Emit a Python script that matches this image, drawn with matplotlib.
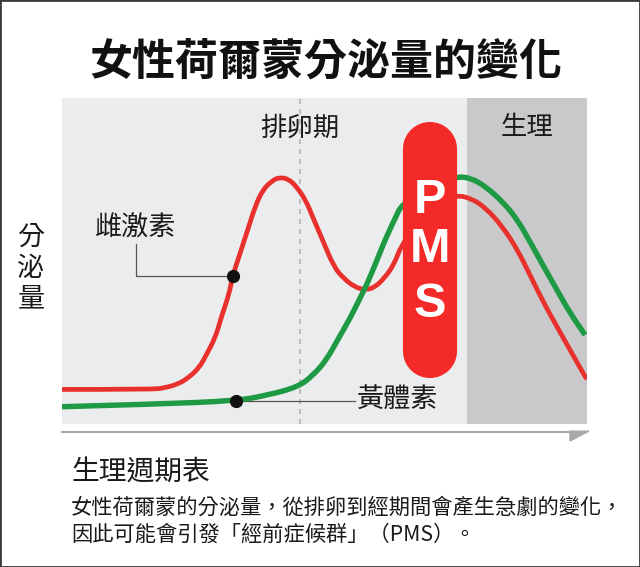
import matplotlib
matplotlib.use("Agg")
import matplotlib.pyplot as plt
from matplotlib.patches import Polygon, Rectangle, PathPatch
from matplotlib.path import Path

plt.rcParams['font.family'] = ['Noto Sans CJK TC', 'DejaVu Sans']

# Data: cycle day vs hormone level (0-100)
ESTROGEN_DAY = [0.0, 4.8, 5.5, 6.2, 6.7, 7.3, 7.7, 8.2, 8.5, 8.9, 9.1, 9.5, 9.9,
                10.3, 10.7, 11.2, 11.6, 12.1, 12.5, 13.0, 13.4, 13.9, 14.5,
                15.0, 15.6, 16.2, 16.7, 17.2, 17.7, 18.1, 19.0, 20.0, 21.0,
                21.8, 22.6, 23.5, 24.3, 25.0, 25.7, 26.4, 27.1, 27.9, 28.0]
ESTROGEN_LVL = [10.6, 10.6, 11.1, 12.3, 14.0, 17.1, 21.2, 26.8, 32.9, 39.6, 45.4,
                52.4, 59.5, 66.7, 71.8, 74.6, 75.7, 75.1, 72.8, 68.7, 63.1,
                56.4, 48.2, 44.8, 42.0, 41.1, 42.0, 44.8, 48.8, 54.9, 62.0,
                67.8, 70.2, 69.3, 66.3, 60.5, 53.4, 45.2, 37.1, 29.8, 22.7,
                14.5, 13.8]

PROGEST_DAY = [0.0, 5.0, 9.3, 11.0, 12.6, 13.4, 14.1, 14.7, 15.4, 15.9, 16.3,
               16.8, 17.3, 17.8, 18.1, 19.6, 21.0, 21.8, 22.6, 23.5, 24.3,
               25.0, 25.7, 26.4, 27.1, 27.9]
PROGEST_LVL = [5.3, 6.1, 7.1, 8.9, 11.4, 15.0, 19.6, 25.8, 32.8, 38.7, 43.3,
               50.3, 57.4, 63.5, 67.2, 73.3, 75.9, 75.5, 72.8, 68.2, 62.6,
               55.5, 48.2, 41.1, 34.0, 27.3]

CYCLE_LEN = 28
OVULATION_DAY = 12.7
PERIOD_START = 21.6
PMS_DAY = 19.63
PMS_RANGE = (22.3, 84.5)
ESTROGEN_DOT = (9.1, 45.4)
PROGEST_DOT = (9.3, 7.1)

TITLE = "女性荷爾蒙分泌量的變化"
CAPTION_HEAD = "生理週期表"
CAPTION_LINES = ["女性荷爾蒙的分泌量，從排卵到經期間會產生急劇的變化，",
                 "因此可能會引發「經前症候群」（PMS）。"]

RED = "#e8302c"
PILL_RED = "#f42a29"
GREEN = "#1e9a44"


def smooth_curve(xs, ys):
    """Quadratic bezier path through the read points (midpoint scheme)."""
    pts = list(zip(xs, ys))
    verts = [pts[0]]
    codes = [Path.MOVETO]
    for i in range(1, len(pts) - 1):
        mid = ((pts[i][0] + pts[i + 1][0]) / 2, (pts[i][1] + pts[i + 1][1]) / 2)
        verts += [pts[i], mid]
        codes += [Path.CURVE3, Path.CURVE3]
    verts.append(pts[-1])
    codes.append(Path.LINETO)
    return Path(verts, codes)


fig = plt.figure(figsize=(6.4, 5.67), dpi=100)
ax = fig.add_axes([62 / 640, 1 - 424 / 567, 525 / 640, 326 / 567])
ax.set_facecolor("#ebeced")
ax.set_xlim(0, CYCLE_LEN)
ax.set_ylim(0, 100)
ax.set_xticks([])
ax.set_yticks([])
for s in ax.spines.values():
    s.set_visible(False)

# 生理 region + ovulation line
ax.axvspan(PERIOD_START, CYCLE_LEN, color="#c9c9cb", lw=0, zorder=0)
ax.axvline(OVULATION_DAY, color="#b4b4b4", lw=1.2, ls=(0, (3, 3)), zorder=1)

# curves
ax.add_patch(PathPatch(smooth_curve(ESTROGEN_DAY, ESTROGEN_LVL), fill=False,
                       ec=RED, lw=3.4, capstyle="butt", joinstyle="round", zorder=3))
ax.add_patch(PathPatch(smooth_curve(PROGEST_DAY, PROGEST_LVL), fill=False,
                       ec=GREEN, lw=3.9, capstyle="butt", joinstyle="round", zorder=4))

# PMS pill
ax.plot([PMS_DAY, PMS_DAY], PMS_RANGE, color=PILL_RED, lw=39,
        solid_capstyle="round", zorder=5)
for ch, y in zip("PMS", [68.7, 53.4, 36.8]):
    ax.text(PMS_DAY, y, ch, color="white", fontsize=35, fontweight="bold",
            family=["Liberation Sans", "DejaVu Sans"],
            ha="center", va="center", zorder=6)

# labels & leaders
ax.text(OVULATION_DAY, 90.8, "排卵期", fontsize=19, ha="center", va="center",
        color="#1a1a1a")
ax.text(24.8, 90.8, "生理", fontsize=19, ha="center", va="center", color="#1a1a1a")

ax.text(1.75, 60.1, "雌激素", fontsize=19.5, ha="left", va="center", color="#1a1a1a")
ax.plot([3.95, 3.95, ESTROGEN_DOT[0]], [55.3, ESTROGEN_DOT[1], ESTROGEN_DOT[1]],
        color="#555555", lw=0.9, zorder=2)
ax.plot(*ESTROGEN_DOT, "o", color="#111111", ms=8.5, zorder=7)

ax.text(15.75, 7.4, "黃體素", fontsize=19.5, ha="left", va="center", color="#1a1a1a")
ax.plot([PROGEST_DOT[0], 15.6], [PROGEST_DOT[1], PROGEST_DOT[1]],
        color="#555555", lw=0.9, zorder=2)
ax.plot(*PROGEST_DOT, "o", color="#111111", ms=8.5, zorder=7)

# time axis arrow under the panel
ax.plot([0, 0.975], [-0.025, -0.025], transform=ax.transAxes, color="#a9a9a9",
        lw=1.6, clip_on=False)
ax.add_patch(Polygon([[0.9676, -0.022], [1.0036, -0.022], [0.9676, -0.052]],
                     closed=True, transform=ax.transAxes, color="#a9a9a9",
                     clip_on=False))

# y label, stacked vertically
for i, ch in enumerate("分泌量"):
    fig.text(31 / 640, 1 - (237 + 31 * i) / 567, ch, fontsize=19.5,
             ha="center", va="center", color="#1a1a1a")

fig.text(326 / 640, 1 - 62 / 567, TITLE, fontsize=31, fontweight="bold",
         ha="center", va="center", color="#111111")

fig.text(71 / 640, 1 - 473 / 567, CAPTION_HEAD, fontsize=20, ha="left",
         va="center", color="#1a1a1a")
for i, line in enumerate(CAPTION_LINES):
    fig.text(71 / 640, 1 - (508 + 27 * i) / 567, line, fontsize=15.3,
             ha="left", va="center", color="#1a1a1a")

# frame around the picture
fig.patches.append(Rectangle((0, 0), 1, 1, transform=fig.transFigure,
                             fill=False, ec="#3a3a3a", lw=2))

fig.savefig("out.png", dpi=100)
